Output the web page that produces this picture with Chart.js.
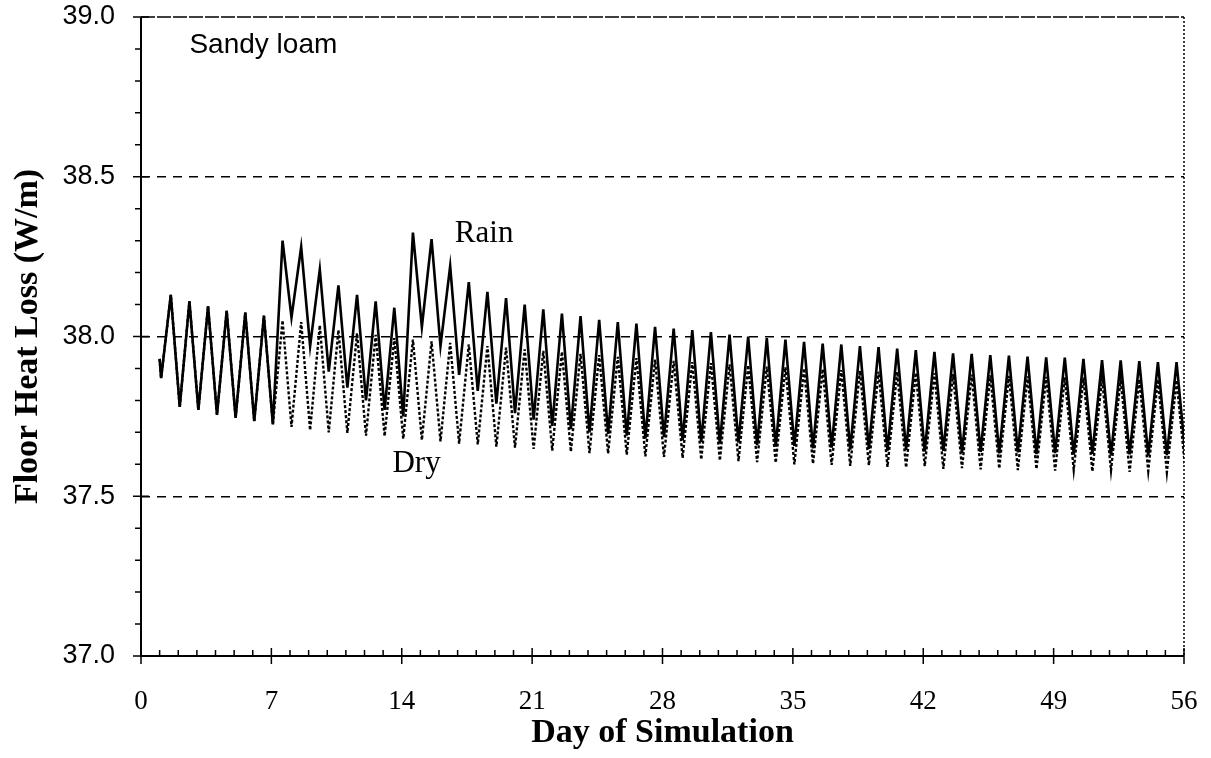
<!DOCTYPE html>
<html>
<head>
<meta charset="utf-8">
<script src="https://cdn.jsdelivr.net/npm/chart.js@4.4.1/dist/chart.umd.min.js"></script>
<style>
  body { margin: 0; background: #ffffff; }
  #chart { display: block; }
</style>
</head>
<body>
<canvas id="chart" width="1211" height="758"></canvas>
<script>
// day of each daily cycle (trough at the start of the day, peak in the afternoon)
const cycleDays = [1, 2, 3, 4, 5, 6, 7, 8, 9, 10, 11, 12, 13, 14, 15, 16, 17, 18, 19, 20,
    21, 22, 23, 24, 25, 26, 27, 28, 29, 30, 31, 32, 33, 34, 35, 36, 37, 38, 39, 40,
    41, 42, 43, 44, 45, 46, 47, 48, 49, 50, 51, 52, 53, 54, 55, 56];

// Rain: daily minimum and maximum (W/m)
const rainLow = [37.87, 37.78, 37.77, 37.755, 37.745, 37.735, 37.725, 38.06, 37.97, 37.89,
    37.84, 37.80, 37.77, 37.75, 38.03, 37.97, 37.88, 37.83, 37.79, 37.76,
    37.74, 37.72, 37.71, 37.70, 37.695, 37.69, 37.68, 37.685, 37.675, 37.67,
    37.665, 37.668, 37.66, 37.655, 37.658, 37.65, 37.652, 37.646, 37.648, 37.643,
    37.645, 37.64, 37.642, 37.636, 37.639, 37.634, 37.637, 37.632, 37.635, 37.63,
    37.633, 37.628, 37.631, 37.627, 37.629, 37.625];
const rainPeak = [38.13, 38.11, 38.095, 38.08, 38.075, 38.065, 38.30, 38.28, 38.21, 38.16,
    38.13, 38.11, 38.09, 38.325, 38.305, 38.22, 38.17, 38.14, 38.12, 38.10,
    38.085, 38.072, 38.064, 38.052, 38.045, 38.04, 38.03, 38.025, 38.02, 38.014,
    38.006, 38.0, 37.995, 37.99, 37.983, 37.978, 37.975, 37.97, 37.967, 37.962,
    37.957, 37.952, 37.947, 37.946, 37.942, 37.94, 37.937, 37.935, 37.934, 37.93,
    37.926, 37.925, 37.923, 37.92, 37.92];

// Dry: daily minimum and maximum (W/m)
const dryLow = [37.87, 37.78, 37.77, 37.755, 37.745, 37.735, 37.725, 37.717, 37.707, 37.70,
    37.698, 37.69, 37.688, 37.68, 37.676, 37.672, 37.665, 37.662, 37.655, 37.652,
    37.648, 37.643, 37.64, 37.635, 37.634, 37.63, 37.625, 37.623, 37.62, 37.615,
    37.612, 37.61, 37.607, 37.605, 37.60, 37.602, 37.598, 37.595, 37.597, 37.592,
    37.59, 37.594, 37.586, 37.588, 37.584, 37.587, 37.582, 37.585, 37.58, 37.583,
    37.578, 37.581, 37.576, 37.579, 37.575, 37.578];
const dryPeak = [38.13, 38.11, 38.095, 38.08, 38.075, 38.065, 38.05, 38.045, 38.035, 38.02,
    38.01, 38.005, 37.995, 37.99, 37.985, 37.98, 37.975, 37.97, 37.965, 37.96,
    37.955, 37.952, 37.946, 37.942, 37.936, 37.932, 37.928, 37.924, 37.92, 37.917,
    37.913, 37.91, 37.906, 37.904, 37.90, 37.898, 37.895, 37.893, 37.89, 37.889,
    37.886, 37.885, 37.882, 37.881, 37.878, 37.877, 37.875, 37.874, 37.872, 37.871,
    37.869, 37.868, 37.866, 37.865, 37.863];

const startValue = 37.93;   // both runs start here on day 1
const yTicks = [37.0, 37.5, 38.0, 38.5, 39.0];
const xTicks = [0, 7, 14, 21, 28, 35, 42, 49, 56];
const labels = [
    { text: 'Sandy loam', day: 2.6, value: 38.91, font: '28px "Liberation Sans"' },
    { text: 'Rain', day: 16.85, value: 38.32, font: '31px "Liberation Serif"' },
    { text: 'Dry', day: 13.5, value: 37.60, font: '31px "Liberation Serif"' }
];

// trough near start of the day, peak in the afternoon
function buildSeries(low, peak) {
    const pts = [{ x: cycleDays[0], y: startValue }];
    cycleDays.forEach((d, i) => {
        pts.push({ x: d + 0.08, y: low[i] });
        if (i < peak.length) pts.push({ x: d + 0.6, y: peak[i] });
    });
    return pts;
}

const serif = '"Liberation Serif", "Times New Roman", serif';

// axes, tick marks and text labels
const frame = {
    id: 'frame',
    afterDatasetsDraw(chart) {
        const { ctx, chartArea: a, scales: { x, y } } = chart;
        ctx.save();
        ctx.strokeStyle = '#000';
        ctx.lineWidth = 2;
        ctx.beginPath();
        ctx.moveTo(a.left, a.top); ctx.lineTo(a.left, a.bottom); ctx.lineTo(a.right, a.bottom);
        ctx.stroke();

        ctx.lineWidth = 1.5;
        ctx.setLineDash([14, 2]);
        ctx.beginPath();
        ctx.moveTo(a.left, a.top); ctx.lineTo(a.right, a.top);
        ctx.stroke();
        ctx.setLineDash([2, 2]);
        ctx.beginPath();
        ctx.moveTo(a.right, a.top); ctx.lineTo(a.right, a.bottom);
        ctx.stroke();
        ctx.setLineDash([]);

        ctx.lineWidth = 1.5;
        ctx.beginPath();
        for (let v = 370; v <= 390; v++) {
            const py = y.getPixelForValue(v / 10);
            if (v % 5 === 0) { ctx.moveTo(a.left - 8, py); ctx.lineTo(a.left + 8, py); }
            else { ctx.moveTo(a.left - 6, py); ctx.lineTo(a.left, py); }
        }
        for (let d = 0; d <= 56; d++) {
            const px = x.getPixelForValue(d);
            if (d % 7 === 0) { ctx.moveTo(px, a.bottom + 8); ctx.lineTo(px, a.bottom - 8); }
            else { ctx.moveTo(px, a.bottom); ctx.lineTo(px, a.bottom - 6); }
        }
        ctx.stroke();

        ctx.fillStyle = '#000';
        ctx.textAlign = 'left';
        ctx.textBaseline = 'middle';
        labels.forEach(l => {
            ctx.font = l.font;
            ctx.fillText(l.text, x.getPixelForValue(l.day), y.getPixelForValue(l.value));
        });
        ctx.restore();
    }
};

new Chart(document.getElementById('chart'), {
    type: 'line',
    data: {
        datasets: [{
            label: 'Rain',
            data: buildSeries(rainLow, rainPeak),
            borderColor: '#000',
            borderWidth: 2.6,
            pointRadius: 0,
            tension: 0,
            order: 0
        }, {
            label: 'Dry',
            data: buildSeries(dryLow, dryPeak),
            borderColor: '#000',
            borderWidth: 2.4,
            borderDash: [3, 2],
            pointRadius: 0,
            tension: 0,
            order: 1
        }]
    },
    plugins: [frame],
    options: {
        responsive: false,
        animation: false,
        events: [],
        layout: { padding: { top: 17, right: 27, left: 0, bottom: 0 } },
        plugins: { legend: { display: false }, tooltip: { enabled: false } },
        scales: {
            x: {
                type: 'linear',
                min: 0,
                max: 56,
                afterBuildTicks: s => { s.ticks = xTicks.map(v => ({ value: v })); },
                afterFit: s => { s.height = 102; s.paddingLeft = 0; s.paddingRight = 0; },
                grid: { display: false, drawTicks: false },
                border: { display: false },
                ticks: {
                    color: '#000',
                    padding: 30,
                    maxRotation: 0,
                    font: { family: serif, size: 27 }
                },
                title: {
                    display: true,
                    text: 'Day of Simulation',
                    color: '#000',
                    padding: { top: 0, bottom: 4 },
                    font: { family: serif, size: 34, weight: 'bold' }
                }
            },
            y: {
                min: 37,
                max: 39,
                afterBuildTicks: s => { s.ticks = yTicks.map(v => ({ value: v })); },
                afterFit: s => { s.width = 141; s.paddingTop = 0; s.paddingBottom = 0; },
                grid: {
                    drawTicks: false,
                    lineWidth: 1.5,
                    color: c => (c.tick && c.tick.value > 37 && c.tick.value < 39) ? '#000' : 'rgba(0,0,0,0)'
                },
                border: { display: false, dash: [9, 7] },
                ticks: {
                    color: '#000',
                    padding: 26,
                    callback: v => v.toFixed(1),
                    font: { family: '"Liberation Sans", Arial, sans-serif', size: 27 }
                },
                title: {
                    display: true,
                    text: 'Floor Heat Loss (W/m)',
                    color: '#000',
                    padding: { top: 8, bottom: 0 },
                    font: { family: serif, size: 34, weight: 'bold' }
                }
            }
        }
    }
});
</script>
</body>
</html>
